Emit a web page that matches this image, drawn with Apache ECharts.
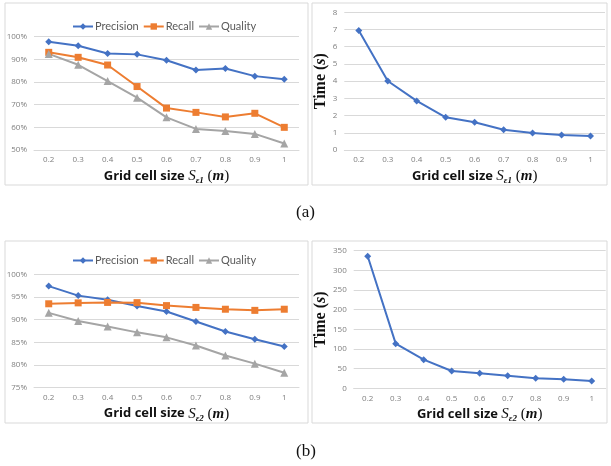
<!DOCTYPE html>
<html>
<head>
<meta charset="utf-8">
<script src="https://cdn.jsdelivr.net/npm/echarts@6/dist/echarts.min.js"></script>
<style>
  html, body { margin: 0; padding: 0; background: #fff; }
  #main { width: 611px; height: 466px; }
</style>
</head>
<body>
<div id="main"></div>
<script>
// 横轴 网格尺寸
var cellSizes = ['0.2', '0.3', '0.4', '0.5', '0.6', '0.7', '0.8', '0.9', '1']
var seriesNames = ['Precision', 'Recall', 'Quality']

// (a) S_e1 的精度 召回 质量 (%)
var precisionA = [97.8, 96.0, 92.6, 92.2, 89.6, 85.3, 86.0, 82.6, 81.2]
var recallA = [93.1, 90.9, 87.5, 78.0, 68.5, 66.6, 64.6, 66.2, 60.0]
var qualityA = [92.4, 87.6, 80.4, 73.1, 64.4, 59.3, 58.4, 57.1, 52.9]
// (a) 耗时 (s)
var timeA = [6.94, 4.01, 2.85, 1.90, 1.61, 1.18, 0.99, 0.87, 0.81]

// (b) S_e2 的精度 召回 质量 (%)
var precisionB = [97.4, 95.3, 94.4, 93.0, 91.8, 89.6, 87.4, 85.7, 84.1]
var recallB = [93.5, 93.7, 93.8, 93.75, 93.1, 92.7, 92.3, 92.05, 92.3]
var qualityB = [91.5, 89.7, 88.5, 87.2, 86.1, 84.3, 82.1, 80.3, 78.3]
// (b) 耗时 (s)
var timeB = [336, 113.6, 72.9, 44, 38, 32, 25.4, 22.9, 18.6]

var blue = '#4472C4'
var orange = '#ED7D31'
var gray = '#A5A5A5'
var sans = 'Open Sans, Liberation Sans, sans-serif'
var serif = 'Liberation Serif, DejaVu Serif, serif'

// 横轴标题 (富文本)
function xName (idx) {
    return '{t|Grid cell size }{s|S}{e|\u03B5' + idx + '}{p| (}{m|m}{p|)}'
}
var xNameRich = {
    t: { fontFamily: sans, fontWeight: 'bold', fontSize: 13, color: '#111', lineHeight: 18 },
    s: { fontFamily: serif, fontStyle: 'italic', fontSize: 15, color: '#111', lineHeight: 18 },
    e: { fontFamily: serif, fontStyle: 'italic', fontWeight: 'bold', fontSize: 9, color: '#111', lineHeight: 18, verticalAlign: 'bottom', padding: [6, 0, 0, 0] },
    p: { fontFamily: serif, fontSize: 15, color: '#111', lineHeight: 18 },
    m: { fontFamily: serif, fontStyle: 'italic', fontWeight: 'bold', fontSize: 15, color: '#111', lineHeight: 18 }
}
var yNameRich = {
    t: { fontFamily: serif, fontWeight: 'bold', fontSize: 16, color: '#111' },
    s: { fontFamily: serif, fontStyle: 'italic', fontWeight: 'bold', fontSize: 16, color: '#111' }
}

function catAxis (gridIndex, idx) {
    return {
        type: 'category', gridIndex: gridIndex, data: cellSizes, boundaryGap: true,
        axisLine: { lineStyle: { color: '#d9d9d9' } },
        axisTick: { show: false },
        axisLabel: { color: '#808080', fontSize: 8, fontFamily: sans, margin: 6 },
        name: xName(idx), nameLocation: 'middle', nameGap: 17,
        nameTextStyle: { rich: xNameRich }
    }
}
function valAxis (gridIndex, min, max, step, fmt, withName) {
    var a = {
        type: 'value', gridIndex: gridIndex, min: min, max: max, interval: step,
        axisLine: { show: false }, axisTick: { show: false },
        splitLine: { lineStyle: { color: '#d9d9d9', width: 1 } },
        axisLabel: { color: '#808080', fontSize: 8, fontFamily: sans, margin: 7, formatter: fmt }
    }
    if (withName) {
        a.name = '{t|Time }{t|(}{s|s}{t|)}'
        a.nameLocation = 'middle'
        a.nameGap = 15
        a.nameTextStyle = { rich: yNameRich }
    }
    return a
}
function line (name, data, color, symbol, xi, yi) {
    return {
        name: name, type: 'line', data: data, xAxisIndex: xi, yAxisIndex: yi,
        symbol: symbol, symbolSize: symbol === 'triangle' ? 8 : 7,
        itemStyle: { color: color }, lineStyle: { color: color, width: 2 },
        animation: false
    }
}
// 图例 放在左侧面板的上方
function legend (top) {
    return {
        data: seriesNames, top: top, left: 67,
        itemWidth: 20, itemHeight: 8, itemGap: 4,
        textStyle: { color: '#595959', fontSize: 11, fontFamily: 'Lato, sans-serif', padding: [0, 0, 0, -3] }
    }
}
function box (x, y, w, h) {
    return { type: 'rect', shape: { x: x, y: y, width: w, height: h }, style: { fill: 'none', stroke: '#d9d9d9', lineWidth: 1 }, z: -1 }
}

var chartDom = document.getElementById('main')
var chart = echarts.init(chartDom)

var option = {
    backgroundColor: '#fff',
    grid: [
        { left: 34, right: 312, top: 36.7, bottom: 316 },
        { left: 344.3, right: 6, top: 12.3, bottom: 316 },
        { left: 34, right: 312, top: 274.3, bottom: 78.3 },
        { left: 353.7, right: 5.3, top: 250.7, bottom: 77.7 }
    ],
    xAxis: [catAxis(0, 1), catAxis(1, 1), catAxis(2, 2), catAxis(3, 2)],
    yAxis: [
        valAxis(0, 50, 100, 10, '{value}%'),
        valAxis(1, 0, 8, 1, '{value}', true),
        valAxis(2, 75, 100, 5, '{value}%'),
        valAxis(3, 0, 350, 50, '{value}', true)
    ],
    legend: [legend(16), legend(250)],
    series: [
        line('Precision', precisionA, blue, 'diamond', 0, 0),
        line('Recall', recallA, orange, 'rect', 0, 0),
        line('Quality', qualityA, gray, 'triangle', 0, 0),
        line('TimeA', timeA, blue, 'diamond', 1, 1),
        line('Precision', precisionB, blue, 'diamond', 2, 2),
        line('Recall', recallB, orange, 'rect', 2, 2),
        line('Quality', qualityB, gray, 'triangle', 2, 2),
        line('TimeB', timeB, blue, 'diamond', 3, 3)
    ],
    graphic: [
        box(5, 3, 303, 182),
        box(312, 3, 295, 182),
        box(5, 241, 303, 182),
        box(312, 241, 295, 182),
        { type: 'text', left: 296, top: 204, style: { text: '(a)', font: '17px ' + serif, fill: '#111' } },
        { type: 'text', left: 296, top: 443, style: { text: '(b)', font: '17px ' + serif, fill: '#111' } }
    ]
}
chart.setOption(option)

window.onresize = function () {
    chart.resize()
}
</script>
</body>
</html>
